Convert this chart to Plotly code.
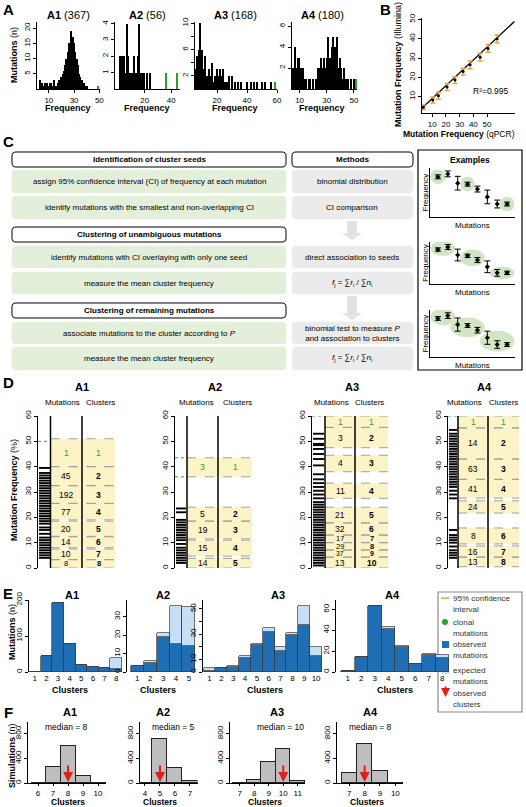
import plotly.graph_objects as go

W, H = 526, 807
FONT = "Liberation Sans, Arial, Helvetica, sans-serif"

# ---------------- data ----------------
# A: histograms of mutation frequency (frequency bin, number of mutations)
a1_freq = list(range(3, 41))
a1_count = [3, 1, 2, 1, 2, 1, 2, 1, 2, 2, 1, 3, 1, 1, 2, 3, 1,
            4, 5, 6, 8, 10, 12, 15, 14, 19, 17, 15, 12, 10, 8, 5, 4, 3, 2, 2, 1, 1]
a1_clonal_freq, a1_clonal_count = [49], [1]

a2_freq = [2, 3, 4, 5, 6, 7, 8, 9, 10, 11, 12, 13, 14, 15, 16, 17, 18, 19, 20, 22, 24]
a2_count = [2, 2, 1, 2, 1, 4, 2, 1, 1, 1, 2, 1, 1, 2, 4, 1, 1, 1, 1, 1, 1]
a2_clonal_freq, a2_clonal_count = [36, 44], [1, 1]

a3_freq = [5, 6, 7, 8, 9, 10, 11, 12, 13, 14, 15, 16, 17, 18, 19, 20, 21, 22, 23, 24, 25, 26, 27, 28,
           30, 32, 34, 36, 40, 43, 45, 47, 50, 52, 56]
a3_count = [3, 3, 5, 6, 10, 6, 3, 5, 2, 2, 3, 2, 4, 1, 2, 3, 2, 3, 2, 3, 1, 1, 1, 2,
            2, 1, 1, 1, 1, 1, 1, 1, 1, 1, 1]
a3_clonal_freq, a3_clonal_count = [59], [1]

a4_freq = [5, 6, 7, 8, 9, 10, 11, 12, 13, 14, 15, 17, 18, 20, 22, 23, 24, 25, 26, 27, 28, 29, 30, 31,
           32, 33, 34, 35, 36, 37, 38, 39, 40, 41, 42, 43, 44, 45, 46, 48, 50]
a4_count = [2, 2, 4, 2, 3, 3, 2, 1, 2, 1, 1, 1, 1, 1, 1, 1, 2, 2, 3, 2, 3, 2, 3, 5,
            3, 3, 4, 5, 4, 3, 5, 2, 3, 2, 1, 2, 1, 1, 1, 1, 1]
a4_clonal_freq, a4_clonal_count = [51.5], [1]

# B: validation qPCR vs Illumina
b_qpcr = [3.5, 10.4, 14.5, 20.8, 26.6, 32.5, 37.6, 44.9, 50.7, 57.3]
b_illumina = [4.5, 8.3, 10.5, 15, 18.6, 23, 26.5, 30.5, 35, 40]
b_err = [1.2, 1.6, 1.8, 1.8, 1.8, 1.8, 2, 2, 2, 2]
b_fit_x = [1, 70]
b_fit_y = [3.1, 49]

# C: example mutations (schematic)
mini_y = [8.2, 8.8, 6.9, 6.7, 5.7, 4.1, 2.65, 2.65]
mini_err = [0.4, 0.6, 1.4, 0.4, 0.6, 1.4, 0.8, 0.4]
mini_groups = [[[1], [4], [8]], [[1, 2], [4, 5], [7, 8]], [[1, 2], [3, 4, 5], [6, 7, 8]]]

# D: cluster bands (low, high frequency), mutation counts, mutation stripes
d1_lo = [40, 32.5, 25.5, 19, 12.5, 8, 3.3, 0]
d1_hi = [51, 40, 32.5, 25.5, 18.5, 12.3, 7.5, 3.3]
d1_n = [1, 45, 192, 77, 20, 14, 10, 8]
d1_clonal = [50]
d1_stripes = [4, 5, 6, 7, 8, 9, 10, 11, 12, 13.5, 15, 16, 17.5, 18.5, 19.5, 20.5, 21.5, 22.5, 23.5,
              24.5, 25.5, 26.5, 27.5, 28.5, 29.5, 30.5, 31.5, 32.5, 33.5, 34.5, 35.5, 36.5, 37.5, 39.5]
d2_lo = [36, 18.5, 11.5, 4.7, 0]
d2_hi = [43.5, 24, 18.5, 11, 3.8]
d2_n = [3, 5, 19, 15, 14]
d2_clonal = [36, 43.5]
d2_stripes = [2, 3, 4, 5, 6, 7, 8, 9.5, 11, 12, 13, 14, 15, 16, 17, 18, 19, 22, 23.5]
d3_lo = [55.5, 47.5, 38, 27.5, 17.8, 13, 10, 7.1, 4.3, 0]
d3_hi = [60, 55.5, 44.5, 33.5, 24, 17.8, 13, 10, 7.1, 4.3]
d3_n = [1, 3, 4, 11, 21, 32, 17, 29, 37, 13]
d3_clonal = [60]
d3_stripes = [1, 2, 3, 4, 5, 6, 7, 8, 9, 10, 11, 12, 13, 14, 15, 16, 17, 18, 19, 20, 21, 22, 23, 24,
              25, 26, 27.5, 29, 30.5, 32, 33.5, 35, 37, 40.5, 43, 45, 47, 48.5, 49, 51, 53]
d4_lo = [55.3, 43, 35, 27.6, 21.7, 9.5, 4.3, 0.5]
d4_hi = [60, 55.3, 43, 35, 26.5, 15.8, 8.7, 4.3]
d4_n = [1, 14, 63, 41, 24, 8, 16, 13]
d4_clonal = [60]
d4_stripes = [4, 5, 6, 7, 8.5, 10, 11, 12, 13, 15, 27.5, 29, 30.5, 32, 33, 34, 35, 36, 37, 38, 39,
              40, 41, 42, 43, 44, 45, 46, 47, 48, 49, 50, 51, 52, 53, 54.5]

# E: observed and expected mutations per cluster
e1_obs = [1, 45, 192, 77, 20, 14, 10, 8]
e1_exp = [1, 45, 192, 77, 20, 14, 10, 40]
e2_obs = [3, 5, 19, 15, 14]
e2_exp = [3, 6, 21, 36, 35]
e3_obs = [1, 3, 4, 11, 21, 32, 17, 29, 37, 13]
e3_exp = [3, 3, 5, 13, 22, 35, 20, 31, 52, 20]
e4_obs = [1, 14, 63, 41, 24, 8, 16, 13]
e4_exp = [1, 14, 63, 43, 25, 8, 17, 16]

# F: simulations per number of clusters
f1_x, f1_y = [6, 7, 8, 9, 10], [5, 265, 600, 110, 0]
f2_x, f2_y = [4, 5, 6, 7], [0, 710, 250, 30]
f3_x, f3_y = [7, 8, 9, 10, 11], [0, 55, 345, 550, 30]
f4_x, f4_y = [7, 8, 9, 10], [160, 625, 200, 5]
f_observed = [8, 5, 10, 8]
f_median = [8, 5, 10, 8]

# ---------------- helpers ----------------
def px(x):
    return x / W


def py(y):
    return 1 - y / H


fig = go.Figure()
layout = dict(width=W, height=H, margin=dict(l=0, r=0, t=0, b=0), autosize=False,
              paper_bgcolor="white", plot_bgcolor="rgba(0,0,0,0)", showlegend=False,
              barmode="stack", bargap=0,
              font=dict(family=FONT, size=8, color="black"))
shapes = []
annots = []
axn = [0]


def new_axes(x0, x1, y0, y1, xkw=None, ykw=None):
    axn[0] += 1
    i = axn[0]
    sfx = "" if i == 1 else str(i)
    base = dict(showgrid=False, zeroline=False, showline=False, ticks="",
                showticklabels=False, fixedrange=True, automargin=False)
    xa = dict(base)
    xa.update(domain=[px(x0), px(x1)], anchor="y" + sfx)
    ya = dict(base)
    ya.update(domain=[py(y1), py(y0)], anchor="x" + sfx)
    if xkw:
        xa.update(xkw)
    if ykw:
        ya.update(ykw)
    layout["xaxis" + sfx] = xa
    layout["yaxis" + sfx] = ya
    return "x" + sfx, "y" + sfx


def raxis(**kw):
    d = dict(showline=True, linecolor="black", linewidth=1, ticks="outside", ticklen=3,
             tickwidth=1, tickcolor="black", showticklabels=True,
             tickfont=dict(size=8, family=FONT, color="black"))
    d.update(kw)
    return d


def text(x, y, s, size=8, color="black", xanchor="center", yanchor="middle", angle=0):
    annots.append(dict(x=px(x), y=py(y), xref="paper", yref="paper", text=s, showarrow=False,
                       font=dict(size=size, color=color, family=FONT),
                       xanchor=xanchor, yanchor=yanchor, textangle=angle))


def P(x, y):
    return f"{px(x):.5f},{py(y):.5f}"


def rrect(x0, y0, x1, y1, r, fill, line="black", lw=1):
    path = (f"M {P(x0 + r, y0)} L {P(x1 - r, y0)} Q {P(x1, y0)} {P(x1, y0 + r)} "
            f"L {P(x1, y1 - r)} Q {P(x1, y1)} {P(x1 - r, y1)} L {P(x0 + r, y1)} "
            f"Q {P(x0, y1)} {P(x0, y1 - r)} L {P(x0, y0 + r)} Q {P(x0, y0)} {P(x0 + r, y0)} Z")
    shapes.append(dict(type="path", path=path, xref="paper", yref="paper",
                       fillcolor=fill, line=dict(color=line, width=lw), layer="below"))


def prect(x0, y0, x1, y1, fill, line="rgba(0,0,0,0)", lw=0):
    shapes.append(dict(type="rect", xref="paper", yref="paper", x0=px(x0), x1=px(x1),
                       y0=py(y1), y1=py(y0), fillcolor=fill, line=dict(color=line, width=lw),
                       layer="below"))


# ---------------- panel labels ----------------
for lab, x, y in [("A", 8, 9), ("B", 386, 9), ("C", 8, 141), ("D", 8, 383), ("E", 8, 593), ("F", 8, 712)]:
    text(x, y, f"<b>{lab}</b>", size=15)

# ---------------- panel A ----------------
A_specs = [
    ("A1", 367, a1_freq, a1_count, a1_clonal_freq, a1_clonal_count, (37, 100), [0.6, 50.5], [0, 22],
     [10, 30, 50], [5, 10, 15, 20], None, 68),
    ("A2", 56, a2_freq, a2_count, a2_clonal_freq, a2_clonal_count, (115, 180), [-2.2, 46.5], [0, 4.1],
     [20, 40], [1, 2, 3, 4], None, 147),
    ("A3", 168, a3_freq, a3_count, a3_clonal_freq, a3_clonal_count, (195, 277), [5.3, 60], [0, 10.2],
     [20, 40, 60], [2, 4, 6, 8, 10], ["2", "", "6", "", "10"], 235),
    ("A4", 180, a4_freq, a4_count, a4_clonal_freq, a4_clonal_count, (292, 357), [4.4, 52.3], [0, 6.4],
     [10, 30, 50], [2, 4, 6], None, 322),
]
for name, n, fr, ct, cfr, cct, (x0, x1), xr, yr, xt, yt, ytt, cx in A_specs:
    ykw = raxis(range=yr, tickvals=yt, tickangle=-90)
    if ytt:
        ykw["ticktext"] = ytt
    xa, ya = new_axes(x0, x1, 22, 89, raxis(range=xr, tickvals=xt), ykw)
    fig.add_trace(go.Bar(x=fr, y=ct, width=1, marker=dict(color="black", line=dict(width=0)),
                         xaxis=xa, yaxis=ya))
    fig.add_trace(go.Bar(x=cfr, y=cct, width=0.8, marker=dict(color="#2ca02c", line=dict(width=0)),
                         xaxis=xa, yaxis=ya))
    text(cx, 15, f"<b>{name}</b> ({n})", size=11)
    text(cx, 108, "<b>Frequency</b>", size=9)
text(14, 55, "<b>Mutations</b> (n)", size=9, angle=-90)

# ---------------- panel B ----------------
xa, ya = new_axes(422, 515, 18, 113,
                  raxis(range=[2.5, 70.4], tickvals=[10, 20, 30, 40, 50]),
                  raxis(range=[1.55, 50.8], tickvals=[10, 20, 30, 40, 50], tickangle=-90))
fig.add_trace(go.Scatter(x=b_fit_x, y=b_fit_y, mode="lines", line=dict(color="black", width=1.3),
                         xaxis=xa, yaxis=ya, cliponaxis=True))
fig.add_trace(go.Scatter(x=b_qpcr, y=b_illumina, mode="markers",
                         marker=dict(color="black", size=3),
                         error_y=dict(type="data", array=b_err, color="#f0a040", thickness=1.5, width=2.5),
                         xaxis=xa, yaxis=ya))
text(490, 91, "R²=0.995", size=8.5)
text(398, 65, "<b>Mutation Frequency</b> (Illumina)", size=9, angle=-90)
text(459, 134, "<b>Mutation Frequency</b> (qPCR)", size=8.5)

# ---------------- panel C ----------------
GREEN = "#e3eedb"
GREY = "#ebebeb"
for (y0, y1, s) in [(152, 167, "Identification of cluster seeds"),
                    (227, 242, "Clustering of unambiguous mutations"),
                    (303, 318, "Clustering of remaining mutations")]:
    rrect(12, y0, 286, y1, 4, "white")
    text(149, (y0 + y1) / 2, f"<b>{s}</b>", size=8)
rrect(292, 152, 413, 167, 4, "white")
text(352, 159.5, "<b>Methods</b>", size=8)

rows = [(170, 193, "assign 95% confidence interval (CI) of frequency at each mutation", "binomial distribution"),
        (196, 219, "identify mutations with the smallest and non-overlapping CI", "CI comparison"),
        (246, 268, "identify mutations with CI overlaying with only one seed", "direct association to seeds"),
        (272, 294, "measure the mean cluster frequency",
         "<i>f</i><sub>j</sub> = ∑<i>r</i><sub>i</sub> / ∑<i>n</i><sub>i</sub>"),
        (322, 344, "associate mutations to the cluster according to <i>P</i>",
         "binomial test to measure <i>P</i><br>and association to clusters"),
        (347, 370, "measure the mean cluster frequency",
         "<i>f</i><sub>j</sub> = ∑<i>r</i><sub>i</sub> / ∑<i>n</i><sub>i</sub>")]
for y0, y1, s1, s2 in rows:
    rrect(12, y0, 286, y1, 4, GREEN, line=GREEN, lw=0.5)
    rrect(292, y0, 413, y1, 4, GREY, line=GREY, lw=0.5)
    text(149, (y0 + y1) / 2, s1, size=8)
    text(352, (y0 + y1) / 2, s2, size=8)


def grey_arrow(c, yt, yb):
    pts = [(c - 5, yt), (c + 5, yt), (c + 5, yb - 7), (c + 10, yb - 7), (c, yb), (c - 10, yb - 7), (c - 5, yb - 7)]
    path = "M " + " L ".join(P(x, y) for x, y in pts) + " Z"
    shapes.append(dict(type="path", path=path, xref="paper", yref="paper", fillcolor="#e2e2e2",
                       line=dict(width=0), layer="below"))


grey_arrow(352, 221, 240)
grey_arrow(352, 296, 320)

# examples box
prect(418, 150, 522, 370, "white", line="black", lw=1.2)
text(470, 160, "<b>Examples</b>", size=8.5)
mini_dom = [(168, 217), (242, 284), (310, 357)]
mini_x = list(range(1, 9))
for (y0, y1), groups in zip(mini_dom, mini_groups):
    xa, ya = new_axes(430, 515, y0, y1,
                      dict(range=[0.2, 8.8], showline=True, linecolor="black", linewidth=1),
                      dict(range=[0, 10], showline=True, linecolor="black", linewidth=1))
    for g in groups:
        ys = [mini_y[i - 1] for i in g]
        shapes.append(dict(type="circle", xref=xa, yref=ya, x0=min(g) - 0.75, x1=max(g) + 0.75,
                           y0=min(ys) - 1.5, y1=max(ys) + 1.5, fillcolor="#d2e5c4",
                           line=dict(width=0), layer="below"))
    fig.add_trace(go.Scatter(x=mini_x, y=mini_y, mode="markers",
                             marker=dict(color="black", size=4, symbol="diamond"),
                             error_y=dict(type="data", array=mini_err, color="black", thickness=1, width=3),
                             xaxis=xa, yaxis=ya))
    text(425, (y0 + y1) / 2, "Frequency", size=8, angle=-90)
    text(472, y1 + 8, "Mutations", size=8)

# ---------------- panel D ----------------
YELLOW = "#fcf4c6"
CGREEN = "#3a9a3a"
D_specs = [
    ("A1", 38, (39, 50), 50.5, 82, 115, d1_lo, d1_hi, d1_n, d1_clonal, d1_stripes, 82, 62, 100),
    ("A2", 175, (176, 186), 187, 218, 252, d2_lo, d2_hi, d2_n, d2_clonal, d2_stripes, 215, 196, 237),
    ("A3", 312, (313, 324), 325, 355, 388, d3_lo, d3_hi, d3_n, d3_clonal, d3_stripes, 352, 331, 369),
    ("A4", 448, (449, 457), 458, 488, 519, d4_lo, d4_hi, d4_n, d4_clonal, d4_stripes, 484, 464, 503),
]
for name, ax0, (b0, b1), l1, l2, rt, lo, hi, nn, clon, fr, tx, mx, cx in D_specs:
    xa, ya = new_axes(ax0, rt, 416, 568, dict(range=[0, rt - ax0]),
                      raxis(range=[0, 60], tickvals=[0, 10, 20, 30, 40, 50, 60], tickangle=-90))
    for k, (a, b, n) in enumerate(zip(lo, hi, nn)):
        shapes.append(dict(type="rect", xref=xa, yref=ya, x0=l1 - ax0, x1=rt - ax0, y0=a, y1=b,
                           fillcolor=YELLOW, line=dict(width=0), layer="below"))
        for yy in (a, b):
            shapes.append(dict(type="line", xref=xa, yref=ya, x0=l1 - ax0, x1=rt - ax0, y0=yy, y1=yy,
                               line=dict(color="#a0a0a0", width=1, dash="dash")))
        col = CGREEN if k == 0 else "black"
        h = b - a
        fs = 8.5 if h > 3.5 else (7.5 if h > 2.9 else 6.8)
        annots.append(dict(x=(l1 + l2) / 2 - ax0, y=(a + b) / 2, xref=xa, yref=ya, text=str(n),
                           showarrow=False, font=dict(size=fs, color=col, family=FONT)))
        annots.append(dict(x=(l2 + rt) / 2 - ax0, y=(a + b) / 2, xref=xa, yref=ya,
                           text=f"<b>{k + 1}</b>" if k > 0 else str(k + 1),
                           showarrow=False, font=dict(size=fs, color=col, family=FONT)))
    for c in clon:
        shapes.append(dict(type="line", xref=xa, yref=ya, x0=0, x1=l1 - ax0, y0=c, y1=c,
                           line=dict(color=CGREEN, width=1, dash="dot")))
    sx, sy = [], []
    for f in fr:
        sx += [b0 - ax0, b1 - ax0, None]
        sy += [f, f, None]
    fig.add_trace(go.Scatter(x=sx, y=sy, mode="lines", line=dict(color="black", width=1.9),
                             xaxis=xa, yaxis=ya))
    for xl in (l1, l2):
        shapes.append(dict(type="line", xref=xa, yref=ya, x0=xl - ax0, x1=xl - ax0, y0=0, y1=60,
                           line=dict(color="black", width=1.5)))
    text(tx, 387, f"<b>{name}</b>", size=11)
    text(mx, 402, "Mutations", size=8)
    text(cx, 402, "Clusters", size=8)
text(14, 490, "<b>Mutation Frequency</b> (%)", size=9, angle=-90)

# ---------------- panel E ----------------
DBLUE = "#1f6db3"
LBLUE = "#c5e0f4"
E_specs = [
    ("A1", e1_obs, e1_exp, (29, 122), [0.5, 8.5], [0, 200], [0, 100, 200], None, 72, 70),
    ("A2", e2_obs, e2_exp, (127, 196), [0.2, 5.55], [0, 39], [0, 10, 20, 30], None, 163, 158),
    ("A3", e3_obs, e3_exp, (203, 322), [0.45, 10.5], [0, 57], [0, 10, 20, 30, 40, 50],
     ["0", "10", "", "30", "", "50"], 278, 265),
    ("A4", e4_obs, e4_exp, (336, 449), [0.13, 8.5], [0, 69], [0, 20, 40, 60], None, 392, 395),
]
for name, obs, exp, (x0, x1), xr, yr, yt, ytt, tx, cx in E_specs:
    ykw = raxis(range=yr, tickvals=yt, tickangle=-90)
    if ytt:
        ykw["ticktext"] = ytt
    cl = list(range(1, len(obs) + 1))
    xa, ya = new_axes(x0, x1, 600, 672,
                      dict(range=xr, showticklabels=True, tickvals=cl,
                           tickfont=dict(size=8, family=FONT, color="black")), ykw)
    fig.add_trace(go.Bar(x=cl, y=obs, width=1, marker=dict(color=DBLUE, line=dict(color="#3a3a3a", width=0.7)),
                         xaxis=xa, yaxis=ya))
    fig.add_trace(go.Bar(x=cl, y=[max(e - o, 0) for o, e in zip(obs, exp)], width=1,
                         marker=dict(color=LBLUE, line=dict(color="#3a3a3a", width=0.7)),
                         xaxis=xa, yaxis=ya))
    text(tx, 595, f"<b>{name}</b>", size=11)
    text(cx, 690, "<b>Clusters</b>", size=9)
text(12, 632, "<b>Mutations</b> (n)", size=9, angle=-90)

# legend box
prect(438, 592, 522, 712, "white", line="#8a8a8a", lw=1.2)
shapes.append(dict(type="line", xref="paper", yref="paper", x0=px(441), x1=px(449), y0=py(598), y1=py(598),
                   line=dict(color="#f0a040", width=1.5)))
shapes.append(dict(type="circle", xref="paper", yref="paper", x0=px(442), x1=px(448), y0=py(625), y1=py(619),
                   fillcolor="#33a02c", line=dict(width=0)))
prect(442, 641, 449, 648, DBLUE)
prect(442, 667, 449, 674, LBLUE)
annots.append(dict(x=px(445.5), y=py(697), xref="paper", yref="paper", ax=0, ay=-12, text="",
                   showarrow=True, arrowhead=2, arrowsize=1, arrowwidth=1.8, arrowcolor="#e0201b"))
for y, s in [(598, "95% confidence"), (609, "interval"), (622, "clonal"), (633, "mutations"),
             (644, "observed"), (655, "mutations"), (670, "expected"), (681, "mutations"),
             (693, "observed"), (704, "clusters")]:
    text(451, y, s, size=8, color="#333333", xanchor="left")

# ---------------- panel F ----------------
F_specs = [
    ("A1", f1_x, f1_y, (28, 106), [5.33, 10.53], 70, 66, 68),
    ("A2", f2_x, f2_y, (140, 197.5), [3.67, 7.5], 163, 173, 160),
    ("A3", f3_x, f3_y, (230, 305), [6.33, 11.5], 277, 280, 265),
    ("A4", f4_x, f4_y, (337, 403), [6.2, 10.5], 370, 370, 367),
]
for (name, fx, fy, (x0, x1), xr, tx, mx, cx), obsc, med in zip(F_specs, f_observed, f_median):
    xa, ya = new_axes(x0, x1, 722, 783, raxis(range=xr, tickvals=fx, ticklen=2),
                      raxis(range=[0, 990], tickvals=[0, 400, 800], tickangle=-90))
    fig.add_trace(go.Bar(x=fx, y=fy, width=1, marker=dict(color="#bebebe", line=dict(color="#222222", width=1)),
                         xaxis=xa, yaxis=ya))
    annots.append(dict(x=obsc, y=15, xref=xa, yref=ya, ax=0, ay=-18, text="", showarrow=True,
                       arrowhead=2, arrowsize=1, arrowwidth=2, arrowcolor="#e0201b"))
    text(tx, 712, f"<b>{name}</b>", size=11)
    text(mx, 727, f"median = {med}", size=8.5)
    text(cx, 802, "<b>Clusters</b>", size=8.5)
text(12, 756, "<b>Simulations</b> (n)", size=9, angle=-90)

layout["shapes"] = shapes
layout["annotations"] = annots
fig.update_layout(**layout)
fig.write_html("out.html", config={"displayModeBar": False},
               post_script="document.body.style.margin='0';document.body.style.padding='0';")
